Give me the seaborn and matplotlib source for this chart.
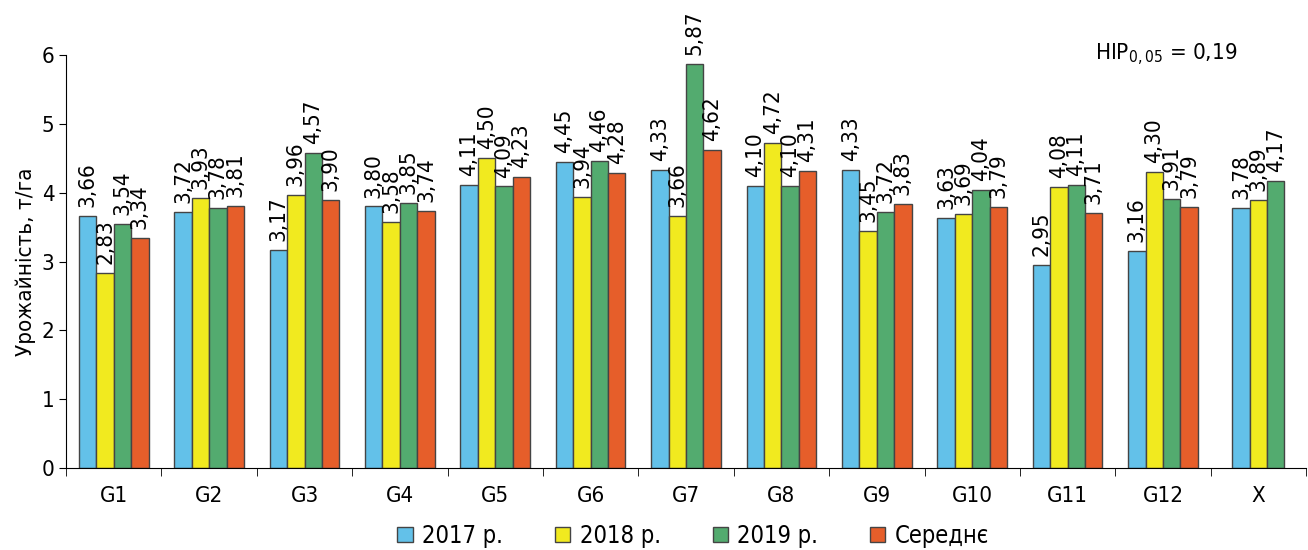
import numpy as np
import pandas as pd
import seaborn as sns
import matplotlib
matplotlib.use("Agg")
import matplotlib.pyplot as plt
from matplotlib.patches import Patch

groups = ["G1", "G2", "G3", "G4", "G5", "G6", "G7", "G8", "G9", "G10", "G11", "G12", "X"]
series = ["2017 р.", "2018 р.", "2019 р.", "Середнє"]
y2017 = [3.66, 3.72, 3.17, 3.80, 4.11, 4.45, 4.33, 4.10, 4.33, 3.63, 2.95, 3.16, 3.78]
y2018 = [2.83, 3.93, 3.96, 3.58, 4.50, 3.94, 3.66, 4.72, 3.45, 3.69, 4.08, 4.30, 3.89]
y2019 = [3.54, 3.78, 4.57, 3.85, 4.09, 4.46, 5.87, 4.10, 3.72, 4.04, 4.11, 3.91, 4.17]
ymean = [3.34, 3.81, 3.90, 3.74, 4.23, 4.28, 4.62, 4.31, 3.83, 3.79, 3.71, 3.79, np.nan]
colors = ["#63c1e9", "#f1ea1f", "#53ab6f", "#e65e2a"]

sns.set_style("ticks")
plt.rcParams["font.family"] = ["DejaVu Sans"]
plt.rcParams["font.stretch"] = "condensed"
plt.rcParams["text.color"] = "black"
plt.rcParams["axes.labelcolor"] = "black"
plt.rcParams["xtick.color"] = "black"
plt.rcParams["ytick.color"] = "black"
plt.rcParams["axes.edgecolor"] = "black"

rows = []
for s, vals in zip(series, [y2017, y2018, y2019, ymean]):
    for g, v in zip(groups, vals):
        rows.append({"group": g, "series": s, "value": v})
df = pd.DataFrame(rows)

fig = plt.figure(figsize=(13.08, 5.5), dpi=100)
ax = fig.add_axes([0.0505, 0.149, 0.948, 0.751])

sns.barplot(data=df, x="group", y="value", hue="series", palette=colors, saturation=1,
            width=0.73, edgecolor="#444444", linewidth=1.0, ax=ax, legend=False)

# label bars and centre the three bars of the last group
n = len(groups)
for ci, cont in enumerate(ax.containers):
    for gi, patch in enumerate(cont.patches):
        h = patch.get_height()
        if np.isnan(h) or h == 0:
            continue
        if gi == n - 1:
            patch.set_x(patch.get_x() + patch.get_width() / 2)
        xc = patch.get_x() + patch.get_width() / 2
        ax.text(xc, h + 0.13, f"{h:.2f}".replace(".", ","), rotation=90,
                ha="center", va="bottom", fontsize=16)

ax.set_ylim(0, 6)
ax.set_xlim(-0.5, n - 0.5)
ax.set_yticks(range(0, 7))
ax.tick_params(axis="y", labelsize=16, length=5)
ax.set_xticks(np.arange(n))
ax.set_xticklabels(groups, fontsize=16)
ax.tick_params(axis="x", which="major", length=0, pad=13)
ax.set_xticks(np.arange(-0.5, n, 1), minor=True)
ax.tick_params(axis="x", which="minor", length=6)
ax.set_xlabel("")
ax.set_ylabel("Урожайність, т/га", fontsize=16)
sns.despine(ax=ax)

ax.text(0.83, 1.0, r"НІР$_{\mathregular{0,05}}$ = 0,19", transform=ax.transAxes,
        fontsize=16, ha="left", va="center")

handles = [Patch(facecolor=c, edgecolor="#444444", label=s) for c, s in zip(colors, series)]
fig.legend(handles=handles, loc="center", bbox_to_anchor=(0.530, 0.026), ncol=4,
           frameon=False, fontsize=17, handlelength=0.65, handleheight=0.65,
           handletextpad=0.4, columnspacing=2.2)

fig.savefig("out.png", dpi=100)
